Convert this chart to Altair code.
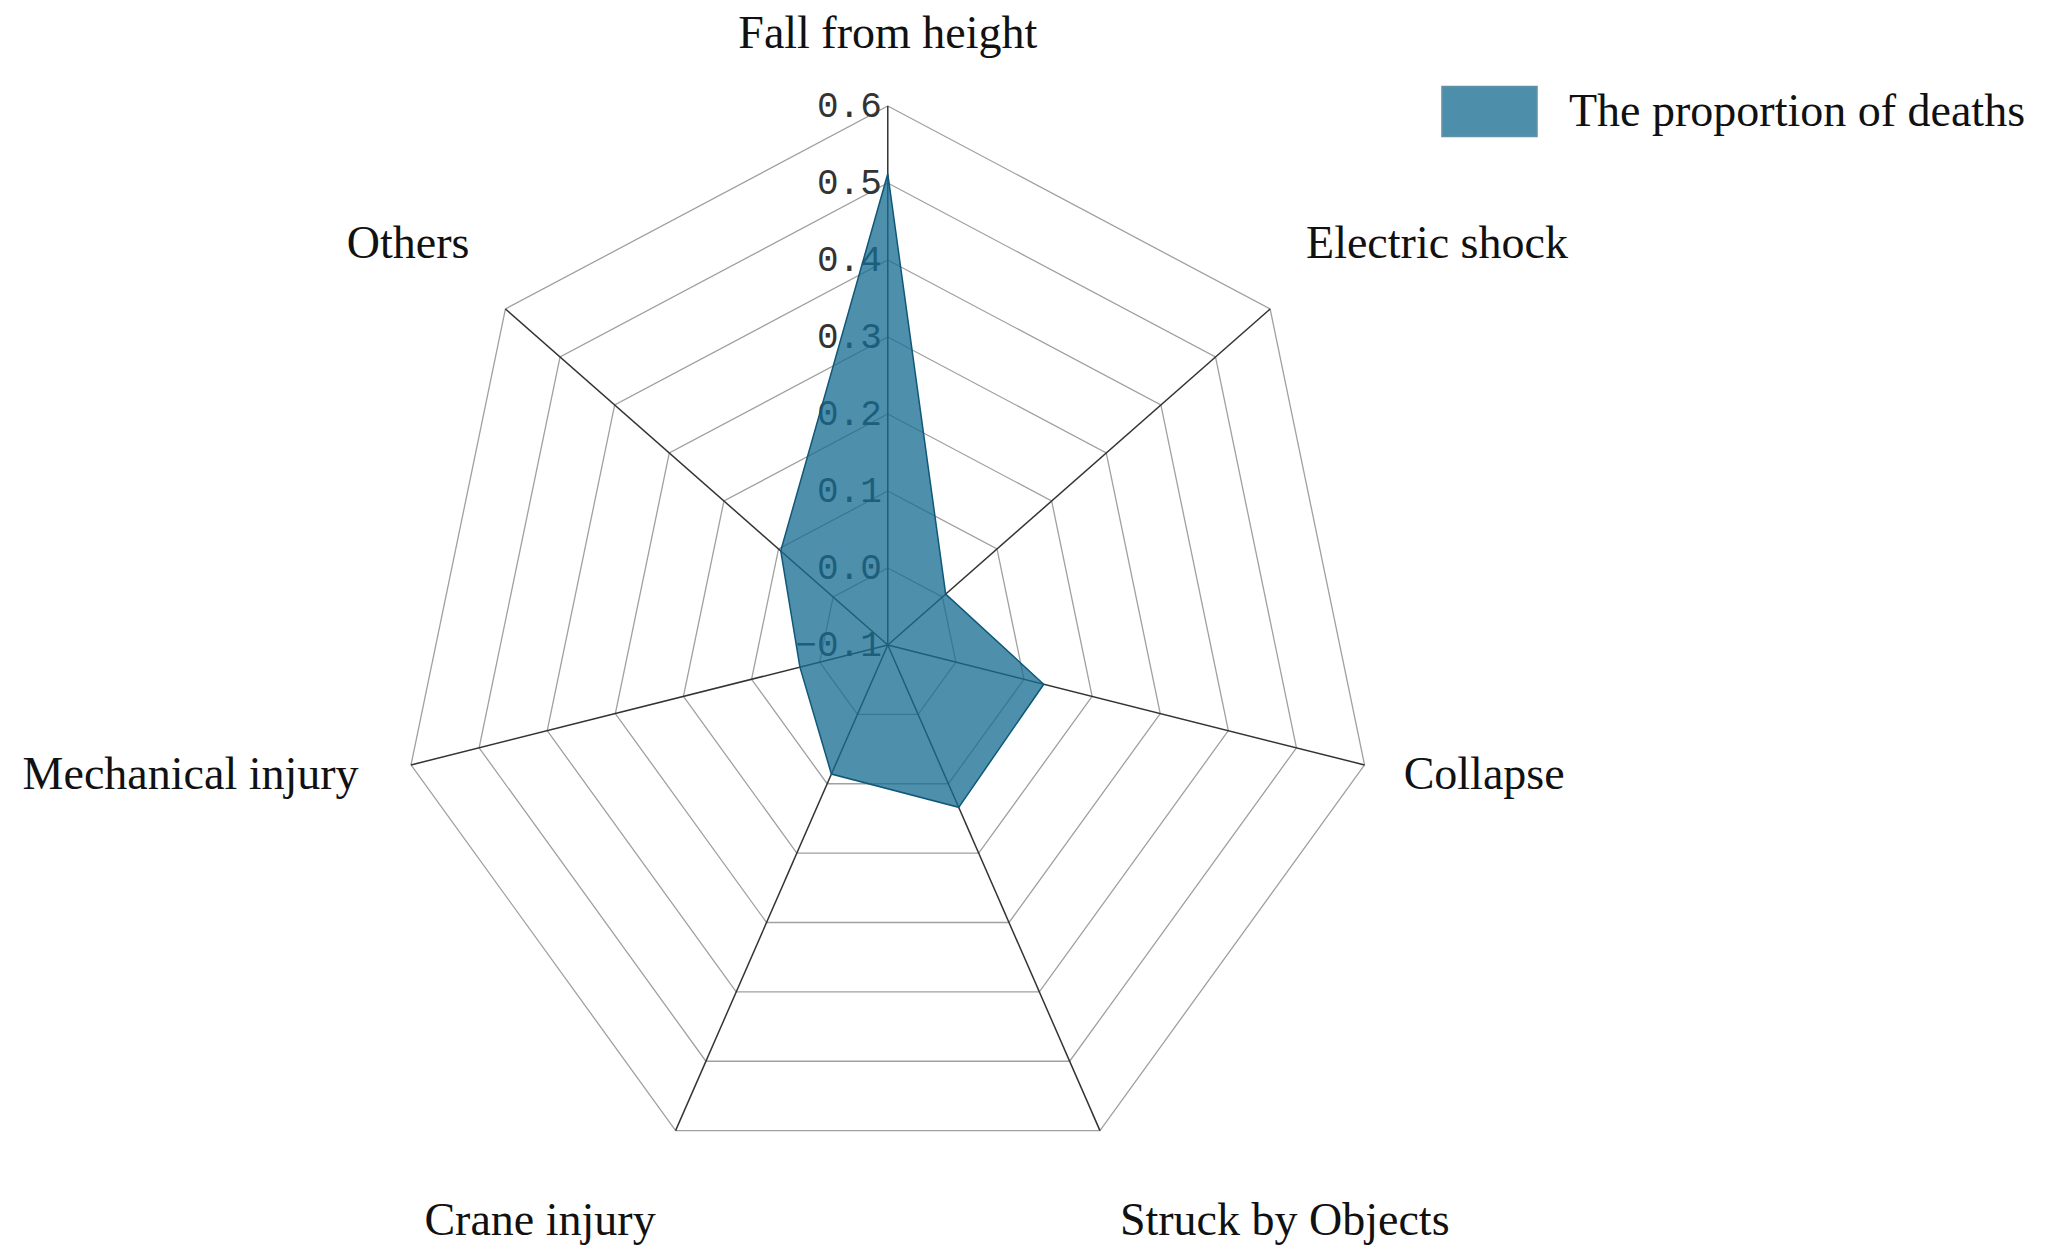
import altair as alt
import pandas as pd

# ---------------- data ----------------
categories = ["Fall from height", "Electric shock", "Collapse", "Struck by Objects",
              "Crane injury", "Mechanical injury", "Others"]
values = [0.512, 0.006, 0.129, 0.134, 0.086, 0.029, 0.096]
tick_values = [-0.1, 0.0, 0.1, 0.2, 0.3, 0.4, 0.5, 0.6]
series_name = "The proportion of deaths"

N = len(categories)
rmin, rmax = tick_values[0], tick_values[-1]

cat_df = pd.DataFrame({"category": categories, "value": values,
                       "idx": list(range(N)), "series": [series_name] * N})
ring_df = pd.DataFrame([{"ring": t, "idx": i} for t in tick_values[1:] for i in range(N)])
tick_df = pd.DataFrame({"tick": tick_values})

angle_expr = f"datum.idx * 2 * PI / {N}"


def norm(f):
    return f"(datum.{f} - ({rmin})) / ({rmax} - ({rmin}))"


xs = alt.Scale(domain=[-1.799, 2.352], nice=False, zero=False)
ys = alt.Scale(domain=[-1.1206, 1.1633], nice=False, zero=False)

SERIF = "Liberation Serif"

rings = alt.Chart(ring_df).transform_calculate(
    a=angle_expr, rn=norm("ring")
).transform_calculate(
    x="datum.rn * sin(datum.a)", y="datum.rn * cos(datum.a)"
).mark_line(interpolate="linear-closed", color="#a0a0a0", strokeWidth=1.3).encode(
    x=alt.X("x:Q", scale=xs, axis=None),
    y=alt.Y("y:Q", scale=ys, axis=None),
    detail="ring:N",
    order="idx:Q",
)

spokes = alt.Chart(cat_df).transform_calculate(
    a=angle_expr, x0="0", y0="0"
).transform_calculate(
    x1="sin(datum.a)", y1="cos(datum.a)"
).mark_rule(color="#333333", strokeWidth=1.5).encode(
    x=alt.X("x0:Q", scale=xs, axis=None),
    y=alt.Y("y0:Q", scale=ys, axis=None),
    x2="x1:Q",
    y2="y1:Q",
)

ticks = alt.Chart(tick_df).transform_calculate(
    rn=norm("tick"), x0="0"
).mark_text(
    align="right", baseline="middle", dx=-6, font="Liberation Mono",
    fontSize=36, color="#333333"
).encode(
    x=alt.X("x0:Q", scale=xs, axis=None),
    y=alt.Y("rn:Q", scale=ys, axis=None),
    text=alt.Text("tick:Q", format=".1f"),
)

poly = alt.Chart(cat_df).transform_calculate(
    a=angle_expr, rn=norm("value")
).transform_calculate(
    x="datum.rn * sin(datum.a)", y="datum.rn * cos(datum.a)"
).mark_line(
    interpolate="linear-closed", fillOpacity=0.76, stroke="#0f5878", strokeWidth=1.5
).encode(
    x=alt.X("x:Q", scale=xs, axis=None),
    y=alt.Y("y:Q", scale=ys, axis=None),
    order="idx:Q",
    fill=alt.Fill(
        "series:N",
        scale=alt.Scale(range=["#166c92"]),
        legend=alt.Legend(
            title=None, orient="none", legendX=1433, legendY=45,
            symbolType="M-1,-0.526H1V0.526H-1Z", symbolSize=9025,
            symbolStrokeColor="#2f6f8c", symbolStrokeWidth=1.5,
            symbolOpacity=0.76,
            labelFont=SERIF, labelFontSize=46, labelColor="#111111",
            labelOffset=31, labelLimit=1000, padding=0,
        ),
    ),
)


def label_layer(filt, align):
    return alt.Chart(cat_df).transform_calculate(
        a=angle_expr
    ).transform_calculate(
        lx="sin(datum.a) * (sin(datum.a) < -0.9 ? 1.11 : (sin(datum.a) > 0.9 ? 1.082 : 1.094))",
        ly="cos(datum.a) * 1.054 + (cos(datum.a) > 0.9 ? 0.079 : (cos(datum.a) > 0.3 ? 0.086 : (cos(datum.a) < -0.3 ? -0.119 : -0.006)))",
        s="sin(datum.a)",
    ).transform_filter(filt).mark_text(
        align=align, baseline="middle", font=SERIF, fontSize=46, color="#111111"
    ).encode(
        x=alt.X("lx:Q", scale=xs, axis=None),
        y=alt.Y("ly:Q", scale=ys, axis=None),
        text="category:N",
    )


lab_left = label_layer("datum.s > 0.01", "left")
lab_right = label_layer("datum.s < -0.01", "right")
lab_center = label_layer("abs(datum.s) <= 0.01", "center")

chart = alt.layer(
    rings, spokes, ticks, poly, lab_left, lab_right, lab_center
).properties(
    width=2030, height=1231,
    autosize=alt.AutoSizeParams(type="none"),
    padding={"left": 0, "top": 10, "right": 0, "bottom": 0},
).configure_view(strokeWidth=0)

chart.save("out.html", embed_options={"renderer": "svg", "actions": False})
